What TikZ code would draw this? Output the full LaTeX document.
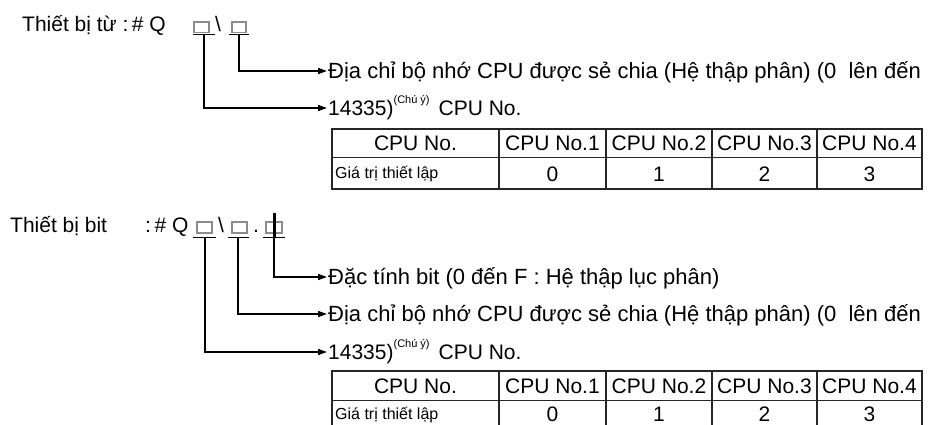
\documentclass[tikz,border=0pt]{standalone}
\usepackage{fontspec}
\setmainfont{Liberation Sans}
\usetikzlibrary{arrows.meta}
\begin{document}
\begin{tikzpicture}[x=1pt,y=-1pt,
  big/.style={font=\fontsize{21}{24}\selectfont, inner sep=0pt, text height=15pt, text depth=0pt},
  small/.style={font=\fontsize{16}{18}\selectfont, inner sep=0pt, text height=11.5pt, text depth=0pt},
  lbl/.style={font=\fontsize{21}{24}\selectfont, inner sep=0pt, anchor=base west},
  desc/.style={big, anchor=west, inner xsep=1pt},
  wide/.style={font=\fontsize{22}{25}\selectfont},
  holder/.style={draw=black!45, line width=1.3pt},
  uline/.style={line width=1.5pt},
  conn/.style={line width=1.4pt, -{Triangle[length=9pt,width=6pt]}},
  grid/.style={line width=1.6pt, black!85},
]
\useasboundingbox (0,0) rectangle (928,425);
\clip (0,0) rectangle (928,425);

%%%%% Word device
\node[lbl] (w0) at (22,32) {Thiết bị từ :\,\# Q};
\draw[holder] (194,22) rectangle (209,32.5);
\node[lbl] (ws) at (215,32) {\textbackslash};
\draw[holder] (232,22) rectangle (246,32.5);
\draw[uline] (193,34.5) -- (215,34.5);
\draw[uline] (229,34.5) -- (249,34.5);
\coordinate (wu1) at (204,34.5);
\coordinate (wu2) at (239,34.5);

\node[desc, wide] (wd1) at (327,71) {Địa chỉ bộ nhớ CPU được sẻ chia (Hệ thập phân) (0~~lên đến};
\node[desc] (wd2) at (327,108) {14335)\raisebox{12pt}{\fontsize{11}{12}\selectfont (Chú ý)}\hspace{9pt}CPU No.};
\draw[conn] (wu2) |- (wd1.west);
\draw[conn] (wu1) |- (wd2.west);

% table 1
\draw[grid] (332,129) rectangle (922,189);
\draw[grid] (332,157.5) -- (922,157.5);
\foreach \x in {499,606,712,817} \draw[grid] (\x,129) -- (\x,189);
\node[big] (t1h0) at (415.5,143) {CPU No.};
\node[big] (t1h1) at (552.5,143) {CPU No.1};
\node[big] (t1h2) at (659,143) {CPU No.2};
\node[big] (t1h3) at (764.5,143) {CPU No.3};
\node[big] (t1h4) at (869.5,143) {CPU No.4};
\node[small, anchor=west] (t1v0) at (335,173) {Giá trị thiết lập};
\node[big] (t1v1) at (552.5,173.5) {0};
\node[big] (t1v2) at (659,173.5) {1};
\node[big] (t1v3) at (764.5,173.5) {2};
\node[big] (t1v4) at (869.5,173.5) {3};

%%%%% Bit device
\node[lbl] (b0) at (10,232) {Thiết bị bit};
\node[lbl] (b1) at (145,232) {:\,\# Q};
\draw[holder] (197,222) rectangle (212,233);
\node[lbl] (bs) at (218,232) {\textbackslash};
\draw[holder] (232,222) rectangle (247,233);
\node[lbl] (bd) at (253,232) {.};
\draw[holder] (266,222) rectangle (282,233);
\draw[uline] (193,237.5) -- (216,237.5);
\draw[uline] (228,237.5) -- (249,237.5);
\draw[uline] (263,237.5) -- (285,237.5);
\coordinate (bu1) at (205,237.5);
\coordinate (bu2) at (238,237.5);
\coordinate (bu3) at (274,237.5);
\coordinate (btop) at (274,213);
\draw[line width=3pt] (btop) -- (bu3);

\node[desc, wide] (bd1) at (327,277) {Đặc tính bit (0 đến F : Hệ thập lục phân)};
\node[desc, wide] (bd2) at (327,314) {Địa chỉ bộ nhớ CPU được sẻ chia (Hệ thập phân) (0~~lên đến};
\node[desc] (bd3) at (327,352) {14335)\raisebox{12pt}{\fontsize{11}{12}\selectfont (Chú ý)}\hspace{9pt}CPU No.};
\draw[conn] (bu3) |- (bd1.west);
\draw[conn] (bu2) |- (bd2.west);
\draw[conn] (bu1) |- (bd3.west);

% table 2
\draw[grid] (332,371) rectangle (922,434);
\draw[grid] (332,400.5) -- (922,400.5);
\foreach \x in {499,606,712,817} \draw[grid] (\x,371) -- (\x,434);
\node[big] (t2h0) at (415.5,385.5) {CPU No.};
\node[big] (t2h1) at (552.5,385.5) {CPU No.1};
\node[big] (t2h2) at (659,385.5) {CPU No.2};
\node[big] (t2h3) at (764.5,385.5) {CPU No.3};
\node[big] (t2h4) at (869.5,385.5) {CPU No.4};
\node[small, anchor=west] (t2v0) at (335,414) {Giá trị thiết lập};
\node[big] (t2v1) at (552.5,414) {0};
\node[big] (t2v2) at (659,414) {1};
\node[big] (t2v3) at (764.5,414) {2};
\node[big] (t2v4) at (869.5,414) {3};
\end{tikzpicture}
\end{document}
